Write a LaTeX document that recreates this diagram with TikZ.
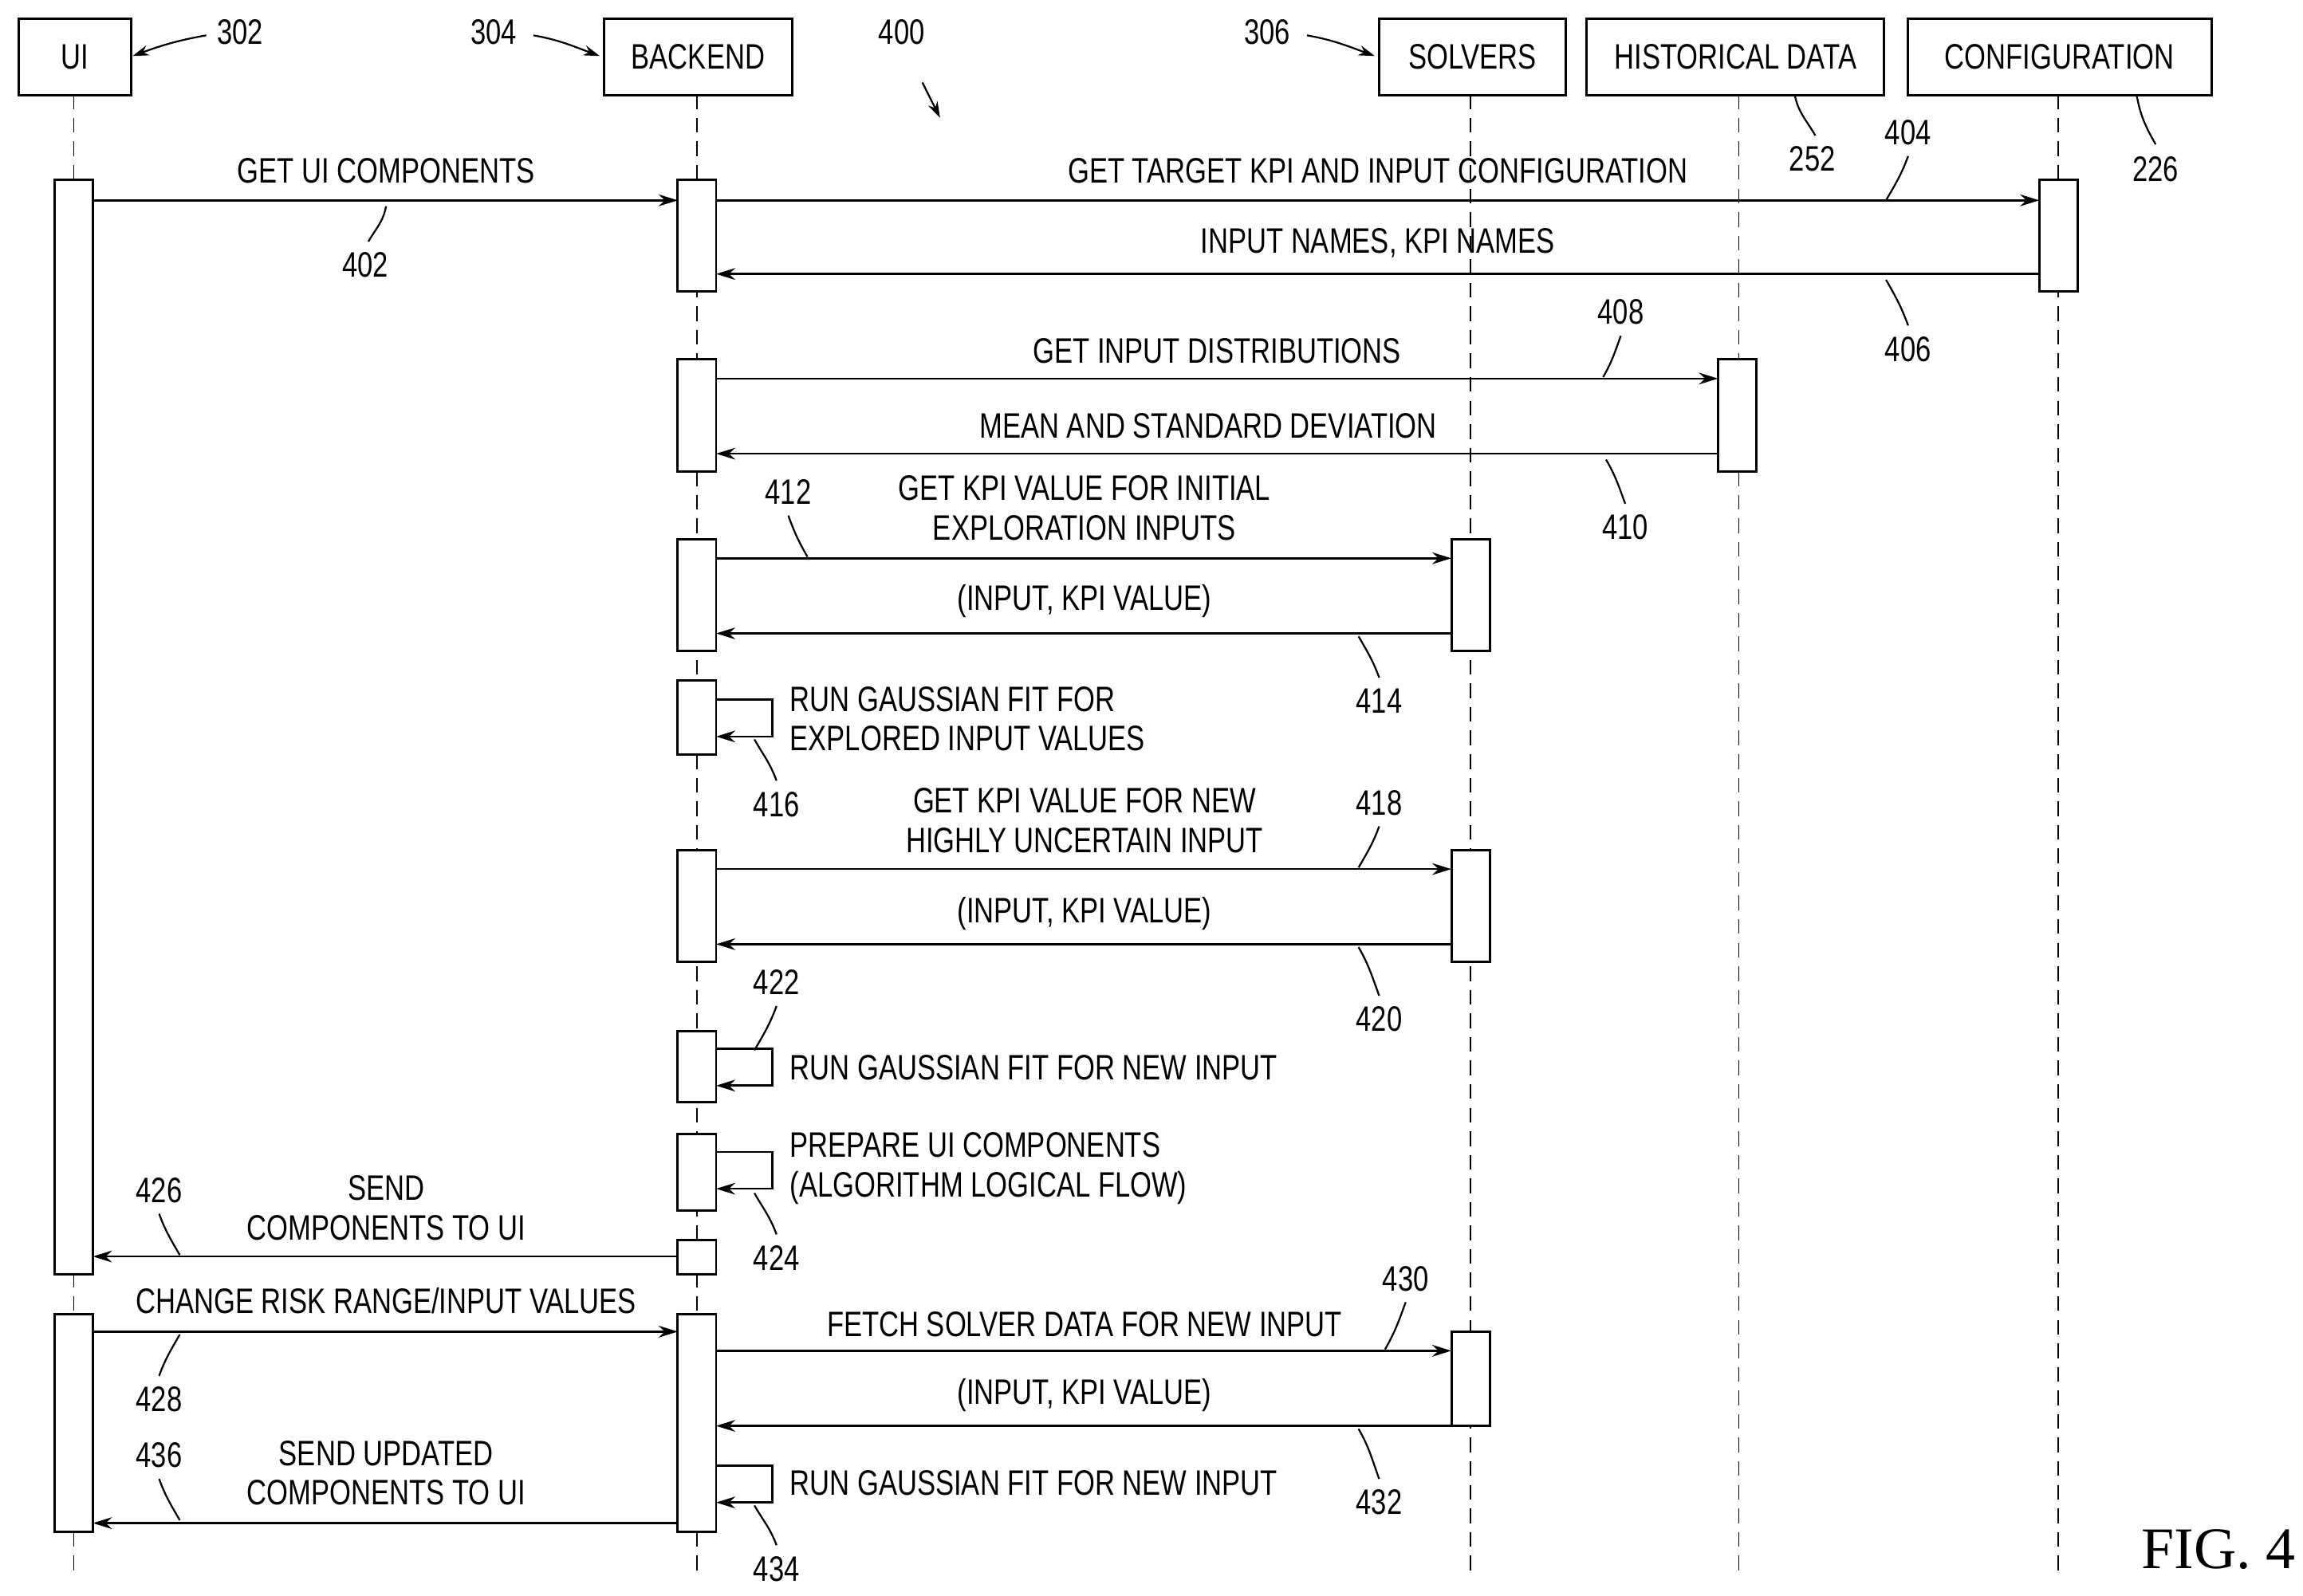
\documentclass[tikz,border=0pt]{standalone}
\usepackage{fontspec}
\setmainfont{Liberation Sans}[FakeStretch=0.78]
\newfontfamily\figfont{Liberation Serif}
\usetikzlibrary{arrows.meta}
\begin{document}
\begin{tikzpicture}[x=1pt,y=-1pt,
  every node/.style={font=\fontsize{24}{27}\selectfont,inner sep=0pt},
  hdr/.style={draw,line width=1.6pt,minimum height=52pt,anchor=north west},
  act/.style={draw,line width=1.6pt,fill=white},
  life/.style={dashed,line width=0.9pt,dash pattern=on 10pt off 6pt},
  msg/.style={line width=1.4pt,-{Stealth[length=13pt,width=8pt]}},
  lead/.style={line width=1.2pt},
  lbl/.style={align=center}]
\useasboundingbox (0,0) rectangle (1563,1083);
% lifelines
\foreach \x in {50,473,998,1180,1397}{\draw[life] (\x,64) -- (\x,1072);}
% headers
\node[hdr,minimum width=76pt] (hui) at (12,12) {UI};
\node[hdr,minimum width=128pt] (hbe) at (409,12) {BACKEND};
\node[hdr,minimum width=127pt] (hso) at (935,12) {SOLVERS};
\node[hdr,minimum width=202pt] (hhi) at (1076,12) {HISTORICAL DATA};
\node[hdr,minimum width=206pt] (hco) at (1294,12) {CONFIGURATION};
% activation boxes
\draw[act] (37,122) rectangle (63,865);
\draw[act] (37,892) rectangle (63,1040);
\foreach \a/\b in {122/198,244/320,366/442,462/512,577/653,700/748,770/822,842/865,892/1040}
  {\draw[act] (460,\a) rectangle (486,\b);}
\draw[act] (1384,122) rectangle (1410,198);
\draw[act] (1166,244) rectangle (1192,320);
\foreach \a/\b in {366/442,577/653,904/968}
  {\draw[act] (985,\a) rectangle (1011,\b);}
% coordinates for messages
\coordinate (u1) at (63,136); \coordinate (b1) at (460,136);
\draw[msg] (u1) -- (b1); \node at (262,116) {GET UI COMPONENTS};
\coordinate (b2) at (486,136); \coordinate (c2) at (1384,136);
\draw[msg] (b2) -- (c2); \node at (935,116) {GET TARGET KPI AND INPUT CONFIGURATION};
\coordinate (c3) at (1384,186); \coordinate (b3) at (486,186);
\draw[msg] (c3) -- (b3); \node at (935,165) {INPUT NAMES, KPI NAMES};
\coordinate (b4) at (486,257); \coordinate (h4) at (1166,257);
\draw[msg] (b4) -- (h4); \node at (826,238) {GET INPUT DISTRIBUTIONS};
\coordinate (h5) at (1166,308); \coordinate (b5) at (486,308);
\draw[msg] (h5) -- (b5); \node at (820,289) {MEAN AND STANDARD DEVIATION};
\coordinate (b6) at (486,379); \coordinate (s6) at (985,379);
\draw[msg] (b6) -- (s6); \node[lbl] at (736,345) {GET KPI VALUE FOR INITIAL\\EXPLORATION INPUTS};
\coordinate (s7) at (985,430); \coordinate (b7) at (486,430);
\draw[msg] (s7) -- (b7); \node at (736,408) {(INPUT, KPI VALUE)};
\draw[msg] (486,475) -- (524,475) -- (524,500) -- (486,500);
\node[align=left,anchor=west] at (536,488) {RUN GAUSSIAN FIT FOR\\EXPLORED INPUT VALUES};
\coordinate (b8) at (486,590); \coordinate (s8) at (985,590);
\draw[msg] (b8) -- (s8); \node[lbl] at (736,557) {GET KPI VALUE FOR NEW\\HIGHLY UNCERTAIN INPUT};
\coordinate (s9) at (985,641); \coordinate (b9) at (486,641);
\draw[msg] (s9) -- (b9); \node at (736,620) {(INPUT, KPI VALUE)};
\draw[msg] (486,712) -- (524,712) -- (524,737) -- (486,737);
\node[anchor=west] at (536,725) {RUN GAUSSIAN FIT FOR NEW INPUT};
\draw[msg] (486,782) -- (524,782) -- (524,807) -- (486,807);
\node[align=left,anchor=west] at (536,793) {PREPARE UI COMPONENTS\\(ALGORITHM LOGICAL FLOW)};
\coordinate (b10) at (460,853); \coordinate (u10) at (63,853);
\draw[msg] (b10) -- (u10); \node[lbl] at (262,820) {SEND\\COMPONENTS TO UI};
\coordinate (u11) at (63,904); \coordinate (b11) at (460,904);
\draw[msg] (u11) -- (b11); \node at (262,883) {CHANGE RISK RANGE/INPUT VALUES};
\coordinate (b12) at (486,917); \coordinate (s12) at (985,917);
\draw[msg] (b12) -- (s12); \node at (736,899) {FETCH SOLVER DATA FOR NEW INPUT};
\coordinate (s13) at (985,968); \coordinate (b13) at (486,968);
\draw[msg] (s13) -- (b13); \node at (736,947) {(INPUT, KPI VALUE)};
\draw[msg] (486,995) -- (524,995) -- (524,1020) -- (486,1020);
\node[anchor=west] at (536,1007) {RUN GAUSSIAN FIT FOR NEW INPUT};
\coordinate (b14) at (460,1034); \coordinate (u14) at (63,1034);
\draw[msg] (b14) -- (u14); \node[lbl] at (262,1000) {SEND UPDATED\\COMPONENTS TO UI};
% reference numerals and leaders
\node (n302) at (163,22) {302};
\draw[lead,-{Stealth[length=11pt,width=7pt]}] (140,24) to[out=190,in=20] (90,38);
\node (n304) at (335,22) {304};
\draw[lead,-{Stealth[length=11pt,width=7pt]}] (362,24) to[out=-10,in=160] (407,38);
\node (n306) at (860,22) {306};
\draw[lead,-{Stealth[length=11pt,width=7pt]}] (887,24) to[out=-10,in=160] (933,38);
\node (n400) at (612,22) {400};
\draw[lead,-{Stealth[length=11pt,width=7pt]}] (626,56) -- (638,80);
\node at (1230,108) {252}; \draw[lead] (1218,64) to[out=-80,in=120] (1232,92);
\node at (1463,115) {226}; \draw[lead] (1450,64) to[out=-80,in=120] (1463,98);
\node at (248,180) {402}; \draw[lead] (262,140) to[out=-100,in=60] (250,164);
\node at (1295,90) {404}; \draw[lead] (1280,136) to[out=60,in=-110] (1295,106);
\node at (1295,237) {406}; \draw[lead] (1280,190) to[out=-60,in=110] (1295,221);
\node at (1100,212) {408}; \draw[lead] (1088,256) to[out=60,in=-110] (1100,228);
\node at (1103,358) {410}; \draw[lead] (1090,312) to[out=-60,in=110] (1103,342);
\node at (535,334) {412}; \draw[lead] (548,378) to[out=120,in=-70] (535,350);
\node at (936,476) {414}; \draw[lead] (922,432) to[out=-60,in=110] (936,460);
\node at (527,546) {416}; \draw[lead] (512,502) to[out=-60,in=110] (527,530);
\node at (936,545) {418}; \draw[lead] (922,589) to[out=60,in=-110] (936,561);
\node at (936,692) {420}; \draw[lead] (922,643) to[out=-60,in=110] (936,676);
\node at (527,667) {422}; \draw[lead] (512,713) to[out=60,in=-110] (527,683);
\node at (527,854) {424}; \draw[lead] (512,810) to[out=-60,in=110] (527,838);
\node at (108,808) {426}; \draw[lead] (122,852) to[out=120,in=-70] (108,824);
\node at (108,950) {428}; \draw[lead] (122,906) to[out=-120,in=70] (108,934);
\node at (954,868) {430}; \draw[lead] (940,916) to[out=60,in=-110] (954,884);
\node at (936,1020) {432}; \draw[lead] (922,970) to[out=-60,in=110] (936,1004);
\node at (527,1065) {434}; \draw[lead] (512,1022) to[out=-60,in=110] (527,1049);
\node at (108,988) {436}; \draw[lead] (122,1032) to[out=120,in=-70] (108,1004);
\node[font=\figfont\fontsize{40}{44}\selectfont,anchor=east] (fig) at (1558,1052) {FIG. 4};
\end{tikzpicture}
\end{document}
